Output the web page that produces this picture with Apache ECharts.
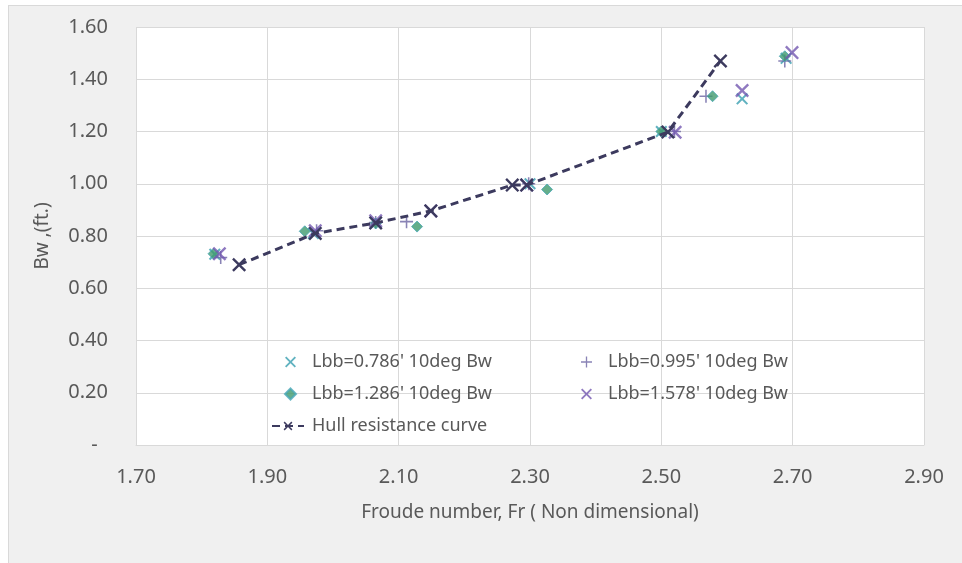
<!DOCTYPE html>
<html><head><meta charset="utf-8">
<script src="https://cdn.jsdelivr.net/npm/echarts@6/dist/echarts.min.js"></script>
<style>
html,body{margin:0;padding:0;background:#fff;}
#wrap{position:absolute;left:8px;top:5px;width:954px;height:558px;background:#f0f0f0;border-top:1px solid #d9d9d9;border-left:1px solid #d9d9d9;box-sizing:border-box;}
#chart{width:100%;height:100%;}
</style></head>
<body><div id="wrap"><div id="chart"></div></div>
<script>
// Series names
const names = ["Lbb=0.786' 10deg Bw", "Lbb=0.995' 10deg Bw", "Lbb=1.286' 10deg Bw", "Lbb=1.578' 10deg Bw", "Hull resistance curve"];
// Lbb=0.786'
const s1x = [1.820, 1.970, 2.065, 2.300, 2.500, 2.623, 2.690];
const s1y = [0.730, 0.810, 0.850, 1.000, 1.200, 1.325, 1.480];
// Lbb=0.995'
const s2x = [1.829, 1.975, 2.065, 2.112, 2.298, 2.520, 2.568, 2.688];
const s2y = [0.718, 0.820, 0.852, 0.855, 1.000, 1.200, 1.335, 1.470];
// Lbb=1.286'
const s3x = [1.818, 1.957, 2.065, 2.128, 2.326, 2.500, 2.578, 2.688];
const s3y = [0.732, 0.818, 0.848, 0.836, 0.978, 1.200, 1.335, 1.488];
// Lbb=1.578'
const s4x = [1.827, 1.973, 2.065, 2.149, 2.295, 2.521, 2.623, 2.699];
const s4y = [0.732, 0.820, 0.858, 0.896, 0.995, 1.197, 1.357, 1.502];
// Hull resistance curve
const hx = [1.857, 1.973, 2.065, 2.149, 2.273, 2.295, 2.510, 2.590];
const hy = [0.690, 0.810, 0.850, 0.896, 0.995, 0.995, 1.198, 1.470];
// Axis ticks
const xTicks = {min: 1.7, max: 2.9, interval: 0.2};
const yTicks = {min: 0, max: 1.6, interval: 0.2};

const zip = (a, b) => a.map((v, i) => [v, b[i]]);
const X = 'path://M0,1.2 L1.2,0 L5,3.8 L8.8,0 L10,1.2 L6.2,5 L10,8.8 L8.8,10 L5,6.2 L1.2,10 L0,8.8 L3.8,5 Z';
const P = 'path://M4.4,0 H5.6 V4.4 H10 V5.6 H5.6 V10 H4.4 V5.6 H0 V4.4 H4.4 Z';
const D = 'path://M5,0 L10,5 L5,10 L0,5 Z';

const chart = echarts.init(document.getElementById('chart'));
const txt = {fontFamily: 'Noto Sans', color: '#595959'};
const legText = Object.assign({fontSize: 18, lineHeight: 20, padding: [0, 0, 0, 11]}, txt);
chart.setOption({
  backgroundColor: 'transparent',
  animation: false,
  grid: {left: 127, top: 21, right: 38, bottom: 118, show: true, backgroundColor: '#ffffff', borderWidth: 0},
  xAxis: {
    type: 'value', min: xTicks.min, max: xTicks.max, interval: xTicks.interval,
    name: 'Froude number, Fr ( Non dimensional)', nameLocation: 'middle', nameGap: 58,
    nameTextStyle: Object.assign({fontSize: 19}, txt),
    axisLine: {show: true, lineStyle: {color: '#d9d9d9', width: 1}},
    axisTick: {show: false},
    axisLabel: Object.assign({fontSize: 20, margin: 22, formatter: v => v.toFixed(2)}, txt),
    splitLine: {show: true, lineStyle: {color: '#d9d9d9', width: 1}}
  },
  yAxis: {
    type: 'value', min: yTicks.min, max: yTicks.max, interval: yTicks.interval,
    name: 'Bw ,(ft.)', nameLocation: 'middle', nameGap: 84,
    nameTextStyle: Object.assign({fontSize: 19}, txt),
    axisLine: {show: false}, axisTick: {show: false},
    axisLabel: Object.assign({fontSize: 20, margin: 28, formatter: v => v === 0 ? '-  ' : v.toFixed(2)}, txt),
    splitLine: {show: true, lineStyle: {color: '#d9d9d9', width: 1}}
  },
  legend: [
    {data: [names[0], names[2]], orient: 'vertical', left: 270, top: 341,
     itemWidth: 11, itemHeight: 11, itemGap: 12, textStyle: legText},
    {data: [names[1], names[3]], orient: 'vertical', left: 567, top: 341,
     itemWidth: 11, itemHeight: 11, itemGap: 12, textStyle: legText},
    {data: [names[4]], orient: 'vertical', left: 257, top: 405,
     itemWidth: 32, itemHeight: 11, textStyle: Object.assign({}, legText, {padding: [0, 0, 0, 3]})}
  ],
  series: [
    {name: names[4], type: 'line', data: zip(hx, hy), symbol: X, symbolSize: 14, showSymbol: true,
     lineStyle: {color: '#3c3a5e', width: 3, type: [8, 5]},
     itemStyle: {color: '#3c3a5e'}},
    {name: names[0], type: 'scatter', data: zip(s1x, s1y), symbol: X, symbolSize: 12,
     itemStyle: {color: '#3a9fb0'}},
    {name: names[1], type: 'scatter', data: zip(s2x, s2y), symbol: P, symbolSize: 13,
     itemStyle: {color: '#6b64a3'}},
    {name: names[2], type: 'scatter', data: zip(s3x, s3y), symbol: D, symbolSize: 11,
     itemStyle: {color: '#3f9a6e', borderColor: '#48a8b8', borderWidth: 1}},
    {name: names[3], type: 'scatter', data: zip(s4x, s4y), symbol: X, symbolSize: 14,
     itemStyle: {color: '#7357b0'}}
  ]
});
</script></body></html>
